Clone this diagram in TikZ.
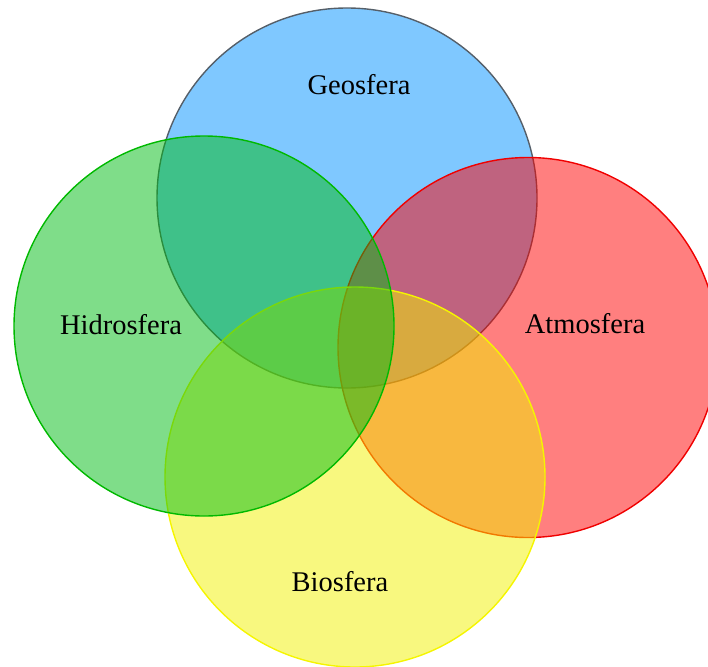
\documentclass[tikz,border=0pt]{standalone}
\usepackage{fontspec}
\setmainfont{Liberation Serif}
\definecolor{geofill}{RGB}{0,145,255}
\definecolor{geoline}{RGB}{85,95,105}
\definecolor{hidrofill}{RGB}{0,188,20}
\definecolor{hidroline}{RGB}{0,185,0}
\definecolor{atmofill}{RGB}{255,0,0}
\definecolor{atmoline}{RGB}{240,0,0}
\definecolor{biofill}{RGB}{242,242,0}
\definecolor{bioline}{RGB}{245,245,0}
\tikzset{
  sphere/.style={circle, minimum size=380pt, inner sep=0pt, line width=1.4pt, fill opacity=0.5, draw opacity=1},
  lbl/.style={font=\fontsize{28.5}{34}\selectfont, text=black, inner sep=0pt}
}
\begin{document}
\begin{tikzpicture}[x=1pt,y=-1pt]
\useasboundingbox (0,0) rectangle (708,666);
\clip (0,0) rectangle (708,666);
\node[sphere, draw=geoline, fill=geofill] (geo) at (347,198) {};
\node[sphere, draw=atmoline, fill=atmofill] (atmo) at (528,347.5) {};
\node[sphere, draw=bioline, fill=biofill] (bio) at (355,477) {};
\node[sphere, draw=hidroline, fill=hidrofill] (hidro) at (204,326) {};
\node[lbl] (geolbl) at (359,85) {Geosfera};
\node[lbl] (hidrolbl) at (121,325) {Hidrosfera};
\node[lbl] (atmolbl) at (585,324) {Atmosfera};
\node[lbl] (biolbl) at (340,582) {Biosfera};
\end{tikzpicture}
\end{document}
